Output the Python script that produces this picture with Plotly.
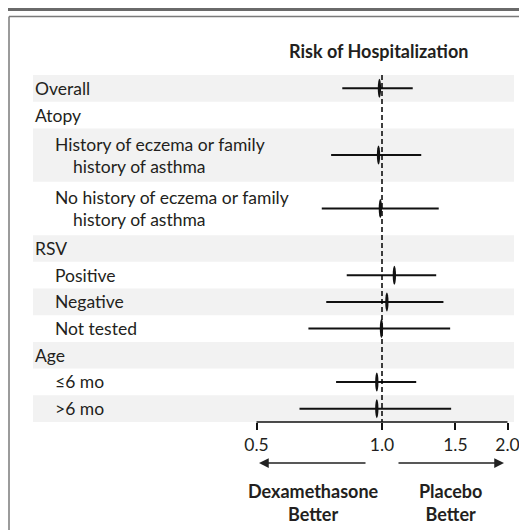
import math
import plotly.graph_objects as go

# ---- data ----
categories = ["Overall", "Atopy",
              "History of eczema or family<br>history of asthma",
              "No history of eczema or family<br>history of asthma",
              "RSV", "Positive", "Negative", "Not tested",
              "Age", "≤6 mo", ">6 mo"]
level = [0, 0, 1, 1, 0, 1, 1, 1, 0, 1, 1]
estimate = [0.977, None, 0.972, 0.982, None, 1.061, 1.018, 0.988, None, 0.963, 0.963]
lower = [0.803, None, 0.755, 0.717, None, 0.823, 0.735, 0.666, None, 0.776, 0.634]
upper = [1.185, None, 1.242, 1.368, None, 1.349, 1.404, 1.457, None, 1.208, 1.465]
tick_vals = [0.5, 1.0, 1.5, 2.0]
tick_text = ["0.5", "1.0", "1.5", "2.0"]
title_text = "Risk of Hospitalization"
left_label = "Dexamethasone<br>Better"
right_label = "Placebo<br>Better"

# ---- layout geometry (page pixels; page body has an 8px margin) ----
OFF = 8
PW, PH = 527, 530
W, H = PW - OFF, PH - OFF
L, R, T, B = 33, 514, 75, 422
FONT = "Lato"
TXT = "#231f20"
BAND = "#f2f2f2"
FS = 17.5
FSB = 18


def px(x):
    return (x - L) / (R - L)


def py(y):
    return (B - y) / (B - T)


# row positions from label line counts
units = [c.count("<br>") + 1 for c in categories]
centers = []
acc = 0
for u in units:
    centers.append(acc + u / 2)
    acc += u
total = acc

# log range so that 0.5 -> 256.5 px and 2.0 -> 507.5 px
ppd = 125.5 / math.log10(2)
r0 = math.log10(0.5) - (256.5 - L) / ppd
r1 = r0 + (R - L) / ppd

fig = go.Figure()
shapes = []
annotations = []

# background bands
acc = 0
for i, u in enumerate(units):
    if i % 2 == 0:
        shapes.append(dict(type="rect", xref="paper", yref="y", x0=0, x1=1,
                           y0=acc, y1=acc + u, fillcolor=BAND, line_width=0,
                           layer="below"))
    acc += u

# dashed reference line at 1.0
shapes.append(dict(type="line", xref="x", yref="y", x0=1.0, x1=1.0, y0=0, y1=total,
                   line=dict(color="#000000", width=1.5, dash="5px,3px")))

# CI lines
for i in range(len(categories)):
    if estimate[i] is None:
        continue
    fig.add_trace(go.Scatter(x=[lower[i], upper[i]], y=[centers[i], centers[i]],
                             mode="lines", line=dict(color="#111111", width=2),
                             hoverinfo="skip", showlegend=False))

# point estimates: lens-shaped markers
for i in range(len(categories)):
    if estimate[i] is None:
        continue
    shapes.append(dict(type="circle", xref="x", yref="y", xsizemode="pixel",
                       ysizemode="pixel", xanchor=estimate[i], yanchor=centers[i],
                       x0=-3.3, x1=3.3, y0=-9.5, y1=9.5, fillcolor="#111111",
                       line=dict(width=0)))

# x axis line between first and last tick
shapes.append(dict(type="line", xref="x", yref="paper", x0=tick_vals[0], x1=tick_vals[-1],
                   y0=0, y1=0, line=dict(color="#111111", width=1.5)))

# frame
shapes.append(dict(type="line", xref="paper", yref="paper", x0=px(8), x1=px(PW),
                   y0=py(9.5), y1=py(9.5), line=dict(color="#6a6a6a", width=3)))
shapes.append(dict(type="line", xref="paper", yref="paper", x0=px(9), x1=px(PW),
                   y0=py(16.5), y1=py(16.5), line=dict(color="#7a7a7a", width=1.5)))
shapes.append(dict(type="line", xref="paper", yref="paper", x0=px(9), x1=px(9),
                   y0=py(16.5), y1=py(PH), line=dict(color="#7a7a7a", width=1.5)))

# row labels
for i, c in enumerate(categories):
    lines = c.split("<br>")
    n = len(lines)
    for j, line in enumerate(lines):
        xpix = 32.5 if level[i] == 0 else (52.5 if j == 0 else 70.5)
        annotations.append(dict(text=line, xref="paper", yref="y", x=px(xpix),
                                y=centers[i], yshift=(-(j - (n - 1) / 2) * 22),
                                xanchor="left", yanchor="middle", showarrow=False,
                                font=dict(family=FONT, size=FS, color=TXT)))

# title
annotations.append(dict(text="<b>" + title_text + "</b>", xref="paper", yref="paper",
                        x=px(378.5), y=py(51), xanchor="center", yanchor="middle",
                        showarrow=False, font=dict(family=FONT, size=FSB, color=TXT)))

# arrows
annotations.append(dict(text="", xref="paper", yref="paper", x=px(259), y=py(463),
                        ax=108, ay=0, showarrow=True, arrowhead=2, arrowsize=1.3,
                        arrowwidth=1.5, arrowcolor="#222222"))
annotations.append(dict(text="", xref="paper", yref="paper", x=px(504), y=py(463),
                        ax=-107, ay=0, showarrow=True, arrowhead=2, arrowsize=1.3,
                        arrowwidth=1.5, arrowcolor="#222222"))

# direction labels
annotations.append(dict(text="<b>" + left_label + "</b>", xref="paper", yref="paper",
                        x=px(313), y=py(502), xanchor="center", yanchor="middle",
                        showarrow=False, font=dict(family=FONT, size=FSB, color=TXT)))
annotations.append(dict(text="<b>" + right_label + "</b>", xref="paper", yref="paper",
                        x=px(450), y=py(502), xanchor="center", yanchor="middle",
                        showarrow=False, font=dict(family=FONT, size=FSB, color=TXT)))

fig.update_layout(
    width=W, height=H,
    margin=dict(l=L - OFF, r=PW - R, t=T - OFF, b=PH - B, pad=0, autoexpand=False),
    paper_bgcolor="white", plot_bgcolor="rgba(0,0,0,0)",
    shapes=shapes, annotations=annotations, showlegend=False,
    xaxis=dict(type="log", range=[r0, r1], tickvals=tick_vals, ticktext=tick_text,
               ticks="outside", ticklen=7, tickwidth=1.5, tickcolor="#111111",
               showline=False, showgrid=False, zeroline=False, automargin=False,
               tickfont=dict(family=FONT, size=FS, color=TXT), fixedrange=True),
    yaxis=dict(range=[total, 0], visible=False, fixedrange=True, automargin=False),
)

fig.write_html("out.html")
